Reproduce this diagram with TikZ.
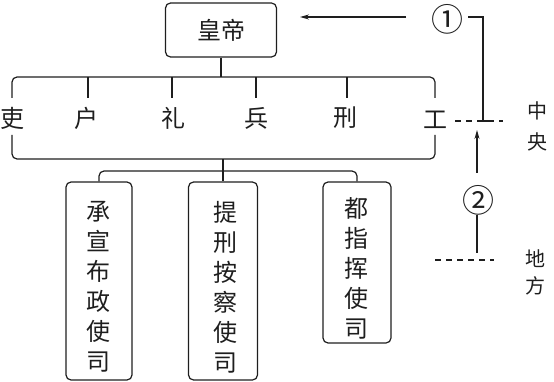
\documentclass[tikz,border=0pt]{standalone}
\usepackage{fontspec}
\newfontfamily\cjk{Noto Sans CJK SC}
\usetikzlibrary{arrows.meta}
\definecolor{ink}{RGB}{30,30,30}
\begin{document}
\begin{tikzpicture}[x=1pt,y=-1pt,line width=1.2pt,draw=ink,text=ink,
  box/.style={draw,rounded corners=5pt,inner sep=0pt},
  lbl/.style={font=\fontsize{24}{24}\cjk,inner sep=0pt},
  vtext/.style={font=\fontsize{24}{30}\cjk,align=center,inner sep=0pt},
  side/.style={font=\fontsize{20}{20}\cjk,inner sep=0pt},
  circ/.style={font=\fontsize{32}{32}\cjk,inner sep=0pt},
  dsh/.style={dash pattern=on 6pt off 5pt},
  arr/.style={-{Stealth[length=9pt,width=5pt]}}]
\useasboundingbox (0,0) rectangle (554,382);
% emperor
\node[box,minimum width=111pt,minimum height=54pt] (emp) at (221,30) {\fontsize{24}{24}\cjk 皇帝};
% ministries
\node[lbl] (m1) at (13,118) {吏};
\node[lbl] (m2) at (86,118) {户};
\node[lbl] (m3) at (173,118) {礼};
\node[lbl] (m4) at (256,118) {兵};
\node[lbl] (m5) at (345,118) {刑};
\node[lbl] (m6) at (435,120) {工};
% top bar
\coordinate (tL) at (12,77);
\coordinate (tR) at (435,77);
\coordinate (k1) at (12,98);
\coordinate (k2) at (88,98);
\coordinate (k3) at (172,98);
\coordinate (k4) at (256,98);
\coordinate (k5) at (347,98);
\coordinate (k6) at (435,98);
\draw (emp.south) -- (emp.south |- tL);
\draw[rounded corners=5pt] (k1) -- (tL) -- (tR) -- (k6);
\draw (k2) -- (k2 |- tL);
\draw (k3) -- (k3 |- tL);
\draw (k4) -- (k4 |- tL);
\draw (k5) -- (k5 |- tL);
% bottom bar
\coordinate (b1) at (12,135);
\coordinate (bL) at (12,159);
\coordinate (bR) at (435,159);
\coordinate (b6) at (435,135);
\draw[rounded corners=5pt] (b1) -- (bL) -- (bR) -- (b6);
% provincial boxes
\node[box,minimum width=66pt,minimum height=198pt] (lbox) at (99,281) {};
\node[box,minimum width=69pt,minimum height=198pt] (mbox) at (223,281) {};
\node[box,minimum width=68pt,minimum height=161pt] (rbox) at (357,262.5) {};
\node[vtext] (lt) at (98,287) {承\\宣\\布\\政\\使\\司};
\node[vtext] (mt) at (225,287) {提\\刑\\按\\察\\使\\司};
\node[vtext] (rt) at (356,268) {都\\指\\挥\\使\\司};
\coordinate (s) at (223,171);
\draw (mbox.north |- bL) -- (mbox.north);
\draw[rounded corners=5pt] (lbox.north) -- (lbox.north |- s) -- (rbox.north |- s) -- (rbox.north);
% right side
\node[circ] (n1) at (447,19) {①};
\node[circ] (n2) at (478,200) {②};
\coordinate (a1) at (406,17);
\coordinate (a2) at (300,17);
\draw[arr] (a1) -- (a2);
\coordinate (c1a) at (468,17);
\coordinate (c1b) at (483,17);
\coordinate (c1c) at (483,121);
\coordinate (c1d) at (488,121);
\draw (c1a) -- (c1b) -- (c1c) -- (c1d);
\coordinate (d1a) at (455,121);
\coordinate (d1b) at (503,121);
\draw[dsh] (d1a) -- (d1b);
\coordinate (u1) at (477,173);
\coordinate (u2) at (477,130);
\draw[arr] (u1) -- (u2);
\coordinate (w1) at (477,215);
\coordinate (w2) at (477,253);
\draw (w1) -- (w2);
\coordinate (d2a) at (435,260);
\coordinate (d2b) at (494,260);
\draw[dsh] (d2a) -- (d2b);
\node[side,align=center,font=\fontsize{20}{31}\cjk] (zy) at (537,126) {中\\央};
\node[side,align=center,font=\fontsize{20}{27}\cjk] (df) at (535,272) {地\\方};
\end{tikzpicture}
\end{document}
